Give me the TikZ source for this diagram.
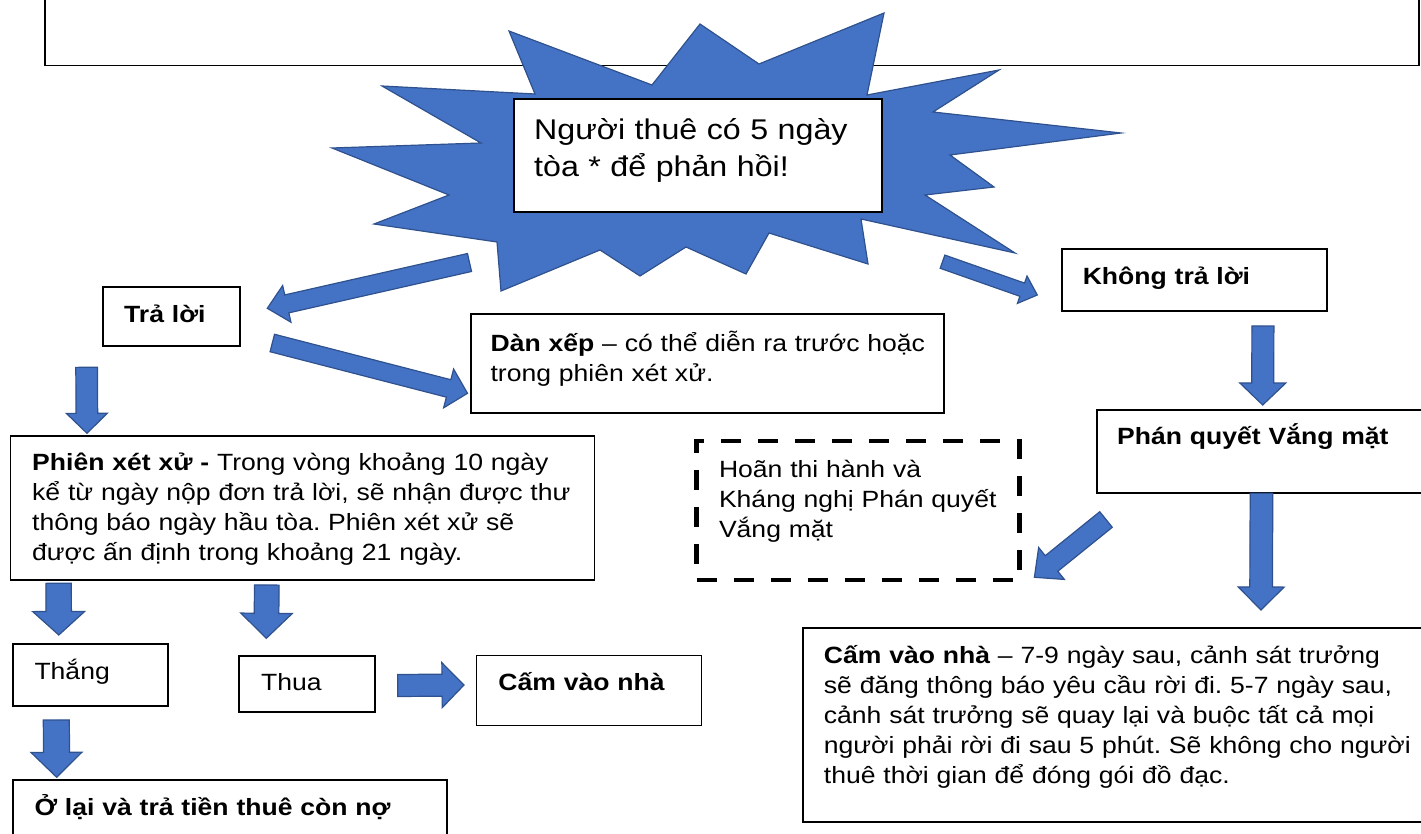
\documentclass[tikz,border=0pt]{standalone}
\usepackage{fontspec}
\setmainfont[FakeStretch=1.13]{Liberation Sans}
\usetikzlibrary{calc}
\frenchspacing

\definecolor{arrowfill}{RGB}{68,114,196}
\definecolor{arrowline}{RGB}{47,82,143}

\newcommand{\bodyfont}{\fontsize{23.5}{30}\selectfont}
\newcommand{\starfont}{\fontsize{28.5}{36.7}\selectfont}

\tikzset{
    box/.style={draw, line width=1.8pt, fill=white, inner sep=0pt, outer sep=0pt, anchor=north west},
    dashbox/.style={box, line width=4.5pt, dash pattern=on 20pt off 17pt},
    txt/.style={anchor=base west, inner sep=0pt, text width=700pt, align=left, font=\bodyfont},
    blue arrow/.style={fill=arrowfill, draw=arrowline, line width=1.2pt},
}

% tail, tip, half shaft, half head, head length
\newcommand{\blockarrow}[5]{%
    \path ($(#2)!#5!(#1)$) coordinate (headbase);
    \filldraw[blue arrow] ($(#1)!#3!90:(#2)$) -- ($(headbase)!#3!90:(#2)$)
        -- ($(headbase)!#4!90:(#2)$) -- (#2) -- ($(headbase)!#4!-90:(#2)$)
        -- ($(headbase)!#3!-90:(#2)$) -- ($(#1)!#3!-90:(#2)$) -- cycle;
}

\begin{document}
\begin{tikzpicture}[x=1pt,y=-1pt]
    \path[use as bounding box, clip] (0,0) rectangle (1421,834);

    \draw[line width=1.8pt] (45,-5) -- (45,65.5) -- (1419,65.5) -- (1419,-5);

    \filldraw[blue arrow] (509,31) -- (652,85) -- (700,24) -- (759,64) -- (884,13)
        -- (867,95) -- (999,70) -- (933,112) -- (1121,133) -- (950,155) -- (994,187)
        -- (925,195) -- (1015,253) -- (861,219) -- (868,264) -- (769,233) -- (746,274)
        -- (686,247) -- (640,276) -- (600,250) -- (501,291) -- (497,242) -- (374,224)
        -- (449,195) -- (332,148) -- (481,143) -- (382,86) -- (535,94) -- cycle;
    \node[box, minimum width=368pt, minimum height=113pt] (start) at (514,99) {};
    \node[txt, font=\starfont] (startT) at (534,140) {Người thuê có 5 ngày\\tòa * để phản hồi!};

    \node[box, minimum width=137pt, minimum height=59pt] (tral) at (103,287) {};
    \node[txt] (tralT) at (124,322.7) {\textbf{Trả lời}};

    \node[box, minimum width=473pt, minimum height=99pt] (danxep) at (471,314) {};
    \node[txt] (danxepT) at (490.4,351) {\textbf{Dàn xếp} – có thể diễn ra trước hoặc\\trong phiên xét xử.};

    \node[box, minimum width=265pt, minimum height=62pt] (khong) at (1062,249) {};
    \node[txt] (khongT) at (1082.6,284) {\textbf{Không trả lời}};

    \node[box, minimum width=584pt, minimum height=144pt] (phien) at (10.5,436) {};
    \node[txt] (phienT) at (32,470.7) {\textbf{Phiên xét xử -} Trong vòng khoảng 10 ngày\\kể từ ngày nộp đơn trả lời, sẽ nhận được thư\\thông báo ngày hầu tòa. Phiên xét xử sẽ\\được ấn định trong khoảng 21 ngày.};

    \node[dashbox, minimum width=322.8pt, minimum height=139pt] (hoan) at (696.5,441) {};
    \node[txt] (hoanT) at (718.8,477.5) {Hoãn thi hành và\\Kháng nghị Phán quyết\\Vắng mặt};

    \node[box, minimum width=400pt, minimum height=83.3pt] (phan) at (1097,410) {};
    \node[txt] (phanT) at (1117,444) {\textbf{Phán quyết Vắng mặt}};

    \node[box, minimum width=155.6pt, minimum height=61.7pt] (thang) at (12.7,644) {};
    \node[txt] (thangT) at (34.3,679) {Thắng};

    \node[box, minimum width=136pt, minimum height=56.6pt] (thua) at (239,655.7) {};
    \node[txt] (thuaT) at (261,690.5) {Thua};

    \node[box, minimum width=225pt, minimum height=70pt] (camnho) at (476.5,655.5) {};
    \node[txt] (camnhoT) at (498.2,690) {\textbf{Cấm vào nhà}};

    \node[box, minimum width=434pt, minimum height=100pt] (olai) at (12.7,780) {};
    \node[txt] (olaiT) at (34.3,815.5) {\textbf{Ở lại và trả tiền thuê còn nợ}};

    \node[box, minimum width=700pt, minimum height=193.4pt] (camlon) at (803.3,628.3) {};
    \node[txt] (camlonT) at (823.7,663.3) {\textbf{Cấm vào nhà} – 7-9 ngày sau, cảnh sát trưởng\\sẽ đăng thông báo yêu cầu rời đi. 5-7 ngày sau,\\cảnh sát trưởng sẽ quay lại và buộc tất cả mọi\\người phải rời đi sau 5 phút. Sẽ không cho người\\thuê thời gian để đóng gói đồ đạc.};

    \coordinate (a1t) at (469.5,262.5);  \coordinate (a1h) at (267.3,308.3);
    \coordinate (a2t) at (272.3,343);    \coordinate (a2h) at (467.5,393.3);
    \coordinate (a3t) at (942.5,261.7);  \coordinate (a3h) at (1037.3,295);
    \coordinate (a4t) at (86.6,367.3);   \coordinate (a4h) at (87,433.3);
    \coordinate (a5t) at (58.6,583.3);   \coordinate (a5h) at (58.8,635);
    \coordinate (a6t) at (266.8,585);    \coordinate (a6h) at (266.3,638.3);
    \coordinate (a7t) at (56.3,720);     \coordinate (a7h) at (56.7,777.3);
    \coordinate (a8t) at (397.7,685.5);  \coordinate (a8h) at (464,685);
    \coordinate (a9t) at (1262.9,326);   \coordinate (a9h) at (1262.7,405);
    \coordinate (a10t) at (1261.5,493.3); \coordinate (a10h) at (1261,610);
    \coordinate (a11t) at (1106,519.5);  \coordinate (a11h) at (1034.4,577.3);

    \blockarrow{a1t}{a1h}{9.2pt}{18.8pt}{20pt}
    \blockarrow{a2t}{a2h}{9pt}{20pt}{19.5pt}
    \blockarrow{a3t}{a3h}{7pt}{14.5pt}{16pt}
    \blockarrow{a4t}{a4h}{10.8pt}{20.5pt}{20pt}
    \blockarrow{a5t}{a5h}{12.7pt}{26pt}{23.5pt}
    \blockarrow{a6t}{a6h}{12.3pt}{25.7pt}{25pt}
    \blockarrow{a7t}{a7h}{13pt}{25.5pt}{25pt}
    \blockarrow{a8t}{a8h}{11pt}{22.5pt}{22pt}
    \blockarrow{a9t}{a9h}{11pt}{23pt}{22pt}
    \blockarrow{a10t}{a10h}{11.3pt}{23pt}{23pt}
    \blockarrow{a11t}{a11h}{10pt}{20.5pt}{22pt}
\end{tikzpicture}
\end{document}
